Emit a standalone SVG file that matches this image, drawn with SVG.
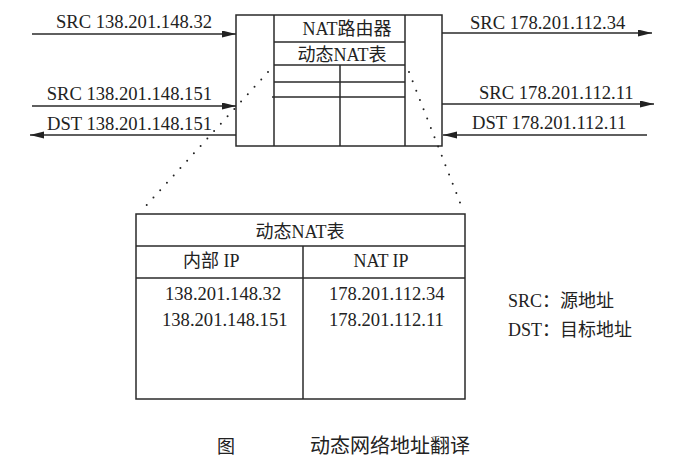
<svg xmlns="http://www.w3.org/2000/svg" width="699" height="462" viewBox="0 0 699 462">
<style>
.ln{stroke:#2a2a2a;stroke-width:1.5;fill:none}
.bx{stroke:#2a2a2a;stroke-width:1.5;fill:#fff}
.t{font-family:"Liberation Serif","Noto Sans CJK SC",serif;font-size:18px;fill:#222}
.ip{font-size:18.6px}
.dot{stroke:#222;stroke-width:2;stroke-linecap:round;stroke-dasharray:0 10;fill:none}
</style>
<defs>
<marker id="ah" markerUnits="userSpaceOnUse" markerWidth="15" markerHeight="8" refX="14" refY="3.5" orient="auto">
<path d="M0,0 L14,3.5 L0,7 z" fill="#222"/>
</marker>
</defs>
<rect width="699" height="462" fill="#fff"/>
<g id="router">
<rect class="bx" x="236" y="15" width="206" height="131"/>
<line class="ln" x1="274" y1="15" x2="274" y2="146"/>
<line class="ln" x1="405" y1="15" x2="405" y2="146"/>
<line class="ln" x1="274" y1="42" x2="405" y2="42"/>
<line class="ln" x1="274" y1="65" x2="405" y2="65"/>
<line class="ln" x1="274" y1="82" x2="405" y2="82"/>
<line class="ln" x1="272" y1="97" x2="405" y2="97"/>
<line class="ln" x1="340" y1="65" x2="340" y2="146"/>
<text class="t" x="347" y="35" text-anchor="middle">NAT路由器</text>
<text class="t" x="342" y="61" text-anchor="middle">动态NAT表</text>
</g>
<g id="nat-table">
<rect class="bx" x="136" y="214" width="329" height="185"/>
<line class="ln" x1="136" y1="246" x2="465" y2="246"/>
<line class="ln" x1="136" y1="278" x2="465" y2="278"/>
<line class="ln" x1="303" y1="246" x2="303" y2="399"/>
<text class="t" x="300" y="238" text-anchor="middle">动态NAT表</text>
<text class="t" x="183" y="267">内部 IP</text>
<text class="t" x="381" y="267" text-anchor="middle">NAT IP</text>
<text class="t ip" x="165" y="300">138.201.148.32</text>
<text class="t ip" x="162" y="326">138.201.148.151</text>
<text class="t ip" x="329" y="300">178.201.112.34</text>
<text class="t ip" x="329" y="326">178.201.112.11</text>
</g>
<g id="connectors">
<line class="ln" x1="32" y1="34" x2="236" y2="34" marker-end="url(#ah)"/>
<line class="ln" x1="32" y1="106" x2="236" y2="106" marker-end="url(#ah)"/>
<line class="ln" x1="236" y1="135" x2="30" y2="135" marker-end="url(#ah)"/>
<line class="ln" x1="442" y1="33" x2="652" y2="33" marker-end="url(#ah)"/>
<line class="ln" x1="442" y1="104" x2="654" y2="104" marker-end="url(#ah)"/>
<line class="ln" x1="647" y1="135" x2="443" y2="135" marker-end="url(#ah)"/>
<line class="dot" x1="268" y1="72" x2="144" y2="208"/>
<line class="dot" x1="409" y1="72" x2="461" y2="205"/>
</g>
<g id="labels">
<text class="t ip" x="212" y="28" text-anchor="end">SRC 138.201.148.32</text>
<text class="t ip" x="212" y="100" text-anchor="end">SRC 138.201.148.151</text>
<text class="t ip" x="212" y="130" text-anchor="end">DST 138.201.148.151</text>
<text class="t ip" x="470" y="29">SRC 178.201.112.34</text>
<text class="t ip" x="479" y="99">SRC 178.201.112.11</text>
<text class="t ip" x="472" y="129">DST 178.201.112.11</text>
</g>
<g id="legend">
<text class="t" x="508" y="307">SRC：源地址</text>
<text class="t" x="508" y="336">DST：目标地址</text>
</g>
<g id="caption">
<text class="t" x="217" y="453">图</text>
<text class="t" x="310" y="453" style="font-size:20px">动态网络地址翻译</text>
</g>
</svg>
